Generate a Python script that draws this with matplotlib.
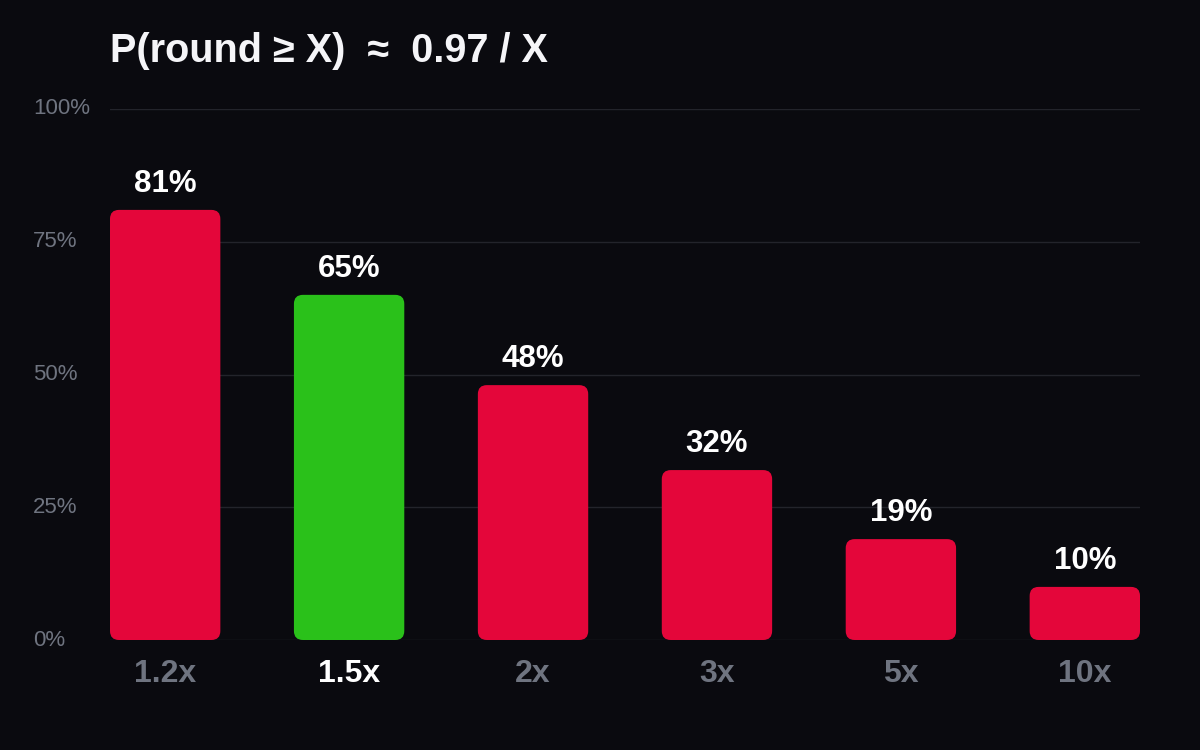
import matplotlib.pyplot as plt
from matplotlib.patches import FancyBboxPatch

plt.rcParams['font.family'] = ['Liberation Sans', 'DejaVu Sans']

# Data
labels = ['1.2x', '1.5x', '2x', '3x', '5x', '10x']
probs = [81, 65, 48, 32, 19, 10]
highlight = '1.5x'

bg = '#0a0a0f'
red = '#e4063a'
green = '#2ac11a'
grey = '#6f7480'

fig = plt.figure(figsize=(12, 7.5), dpi=100, facecolor=bg)
ax = fig.add_axes([110 / 1200, 110 / 750, 1030 / 1200, 531 / 750])
ax.set_facecolor(bg)

x = range(len(labels))
colors = [green if l == highlight else red for l in labels]
bars = ax.bar(x, probs, width=0.6, color=colors)

ax.set_xlim(-0.3, len(labels) - 0.7)
ax.set_ylim(0, 100)

# swap plain bars for rounded ones
fig.canvas.draw()
t = ax.transData
px_x = t.transform((1, 0))[0] - t.transform((0, 0))[0]
px_y = t.transform((0, 1))[1] - t.transform((0, 0))[1]
radius_px = 9
for b, c in zip(bars, colors):
    p = FancyBboxPatch((b.get_x(), b.get_y()), b.get_width(), b.get_height(),
                       boxstyle=f"round,pad=0,rounding_size={radius_px / px_x}",
                       mutation_aspect=px_x / px_y, facecolor=c, edgecolor='none', zorder=3)
    ax.add_patch(p)
    b.remove()
    ax.text(b.get_x() + b.get_width() / 2, b.get_height() + 3.4, f'{b.get_height():.0f}%',
            ha='center', va='baseline', color='white', fontsize=22.5, fontweight='bold')

ax.set_yticks([0, 25, 50, 75, 100])
ax.set_yticklabels([])
for v in [0, 25, 50, 75, 100]:
    ax.axhline(v, color='#23242b', lw=1, zorder=1)
    ax.text(33 / 1200, (110 + v * 5.31) / 750, f'{v}%', transform=fig.transFigure,
            ha='left', va='center', color=grey, fontsize=16)

ax.set_xticks(list(x))
ax.set_xticklabels(labels, fontsize=23, fontweight='bold')
for lbl in ax.get_xticklabels():
    lbl.set_color('white' if lbl.get_text() == highlight else grey)
ax.tick_params(length=0, pad=14)
for s in ax.spines.values():
    s.set_visible(False)

fig.text(110 / 1200, 1 - 51 / 750, 'P(round ≥ X)  ≈  0.97 / X', ha='left', va='center',
         color='#f5f5f8', fontsize=28.5, fontweight='bold')

fig.savefig('out.png', dpi=100, facecolor=bg)
